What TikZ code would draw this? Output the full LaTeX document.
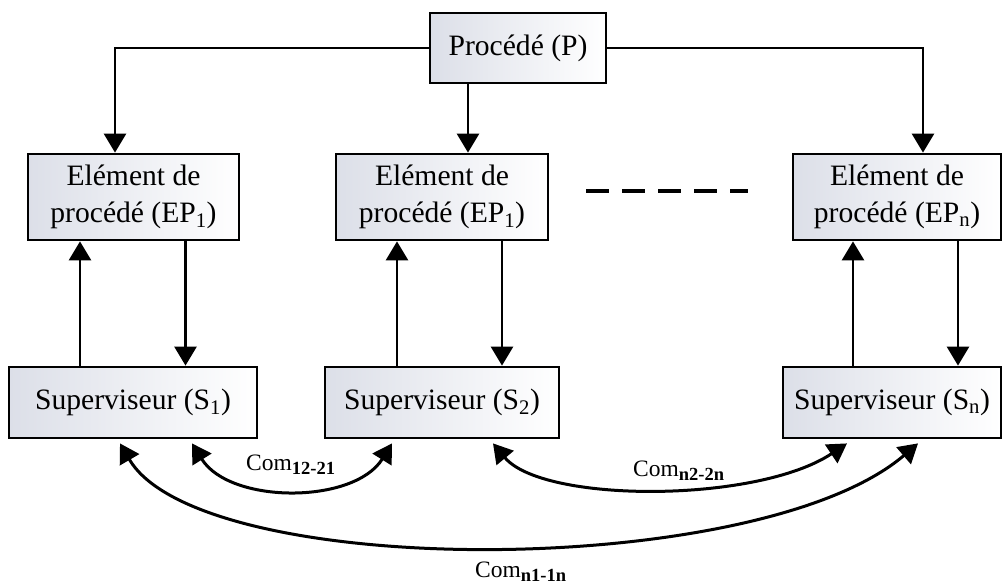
\documentclass[tikz,border=0pt]{standalone}
\usepackage{fontspec}
\setmainfont{Liberation Serif}
\usetikzlibrary{arrows.meta}
\definecolor{boxshade}{RGB}{220,223,232}
% bold, lowered index used in the communication labels
\newcommand\comidx[1]{\raisebox{-4pt}{\fontsize{18.5}{20}\selectfont\bfseries #1}}
\begin{document}
\begin{tikzpicture}[x=1pt,y=-1pt,
  box/.style={draw, line width=2.8pt, left color=boxshade, right color=white,
    inner sep=0pt, align=center, font=\fontsize{29.6}{37}\selectfont},
  arr/.style={line width=2.8pt, -{Triangle[length=19pt,width=22pt]}},
  dblarr/.style={line width=3pt, {Triangle[length=19pt,width=22pt]}-{Triangle[length=19pt,width=22pt]}},
  comlabel/.style={anchor=base west, inner sep=0pt, font=\fontsize{23.5}{28}\selectfont}]
\useasboundingbox (0,0) rectangle (1003,583);

% process
\node[box, minimum width=176pt, minimum height=70pt] (P) at (518,48) {Procédé (P)};

% process elements
\node[box, minimum width=211pt, minimum height=86pt] (EP1) at (133.5,197) {Elément de\\procédé (EP\textsubscript{1})};
\node[box, minimum width=212pt, minimum height=86pt] (EP2) at (442,197) {Elément de\\procédé (EP\textsubscript{1})};
\node[box, minimum width=208pt, minimum height=86pt] (EPn) at (897,197) {Elément de\\procédé (EP\textsubscript{n})};

% supervisors
\node[box, minimum width=248pt, minimum height=71pt] (S1) at (133,402.5) {Superviseur (S\textsubscript{1})};
\node[box, minimum width=234pt, minimum height=71pt] (S2) at (442,402.5) {Superviseur (S\textsubscript{2})};
\node[box, minimum width=218pt, minimum height=71pt] (Sn) at (892,402.5) {Superviseur (S\textsubscript{n})};

% process to elements
\draw[arr] (P.west) -| ([xshift=-18.5pt]EP1.north);
\draw[arr] (P.east) -| ([xshift=26pt]EPn.north);
\draw[arr] ([xshift=-50pt]P.south) -- ([xshift=26pt]EP2.north);

% elided elements
\draw[line width=3.5pt, dash pattern=on 23pt off 13pt]
  ([xshift=37pt,yshift=6pt]EP2.east) -- ([xshift=-44pt,yshift=6pt]EPn.west);

% element / supervisor loops
\draw[arr] ([xshift=-53pt]S1.north) -- ([xshift=-53pt]S1.north |- EP1.south);
\draw[arr] ([xshift=52pt]EP1.south) -- ([xshift=52pt]EP1.south |- S1.north);
\draw[arr] ([xshift=-45pt]S2.north) -- ([xshift=-45pt]S2.north |- EP2.south);
\draw[arr] ([xshift=60pt]EP2.south) -- ([xshift=60pt]EP2.south |- S2.north);
\draw[arr] ([xshift=-39pt]Sn.north) -- ([xshift=-39pt]Sn.north |- EPn.south);
\draw[arr] ([xshift=61pt]EPn.south) -- ([xshift=61pt]EPn.south |- Sn.north);

% communication between supervisors
\draw[dblarr] ([xshift=59pt,yshift=-4pt]S1.south) .. controls +(38,61) and +(-38,61) .. ([xshift=-50pt,yshift=-4pt]S2.south);
\draw[dblarr] ([xshift=51pt,yshift=-4pt]S2.south) .. controls +(50,60) and +(-90,60) .. ([xshift=-45pt,yshift=-4pt]Sn.south);
\draw[dblarr] ([xshift=-13pt,yshift=-4pt]S1.south) .. controls +(80,137) and +(-160,137) .. ([xshift=26pt,yshift=-4pt]Sn.south);

\node[comlabel] (c12) at (246,470) {Com\comidx{12-21}};
\node[comlabel] (cn2) at (633,476) {Com\comidx{n2-2n}};
\node[comlabel] (cn1) at (475,577) {Com\comidx{n1-1n}};
\end{tikzpicture}
\end{document}
